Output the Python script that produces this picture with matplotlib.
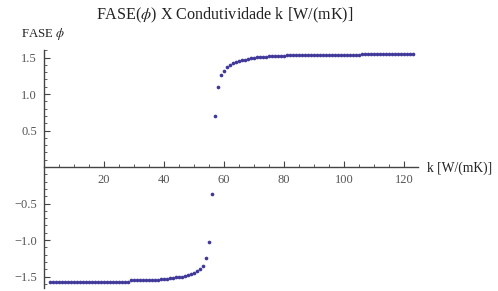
import matplotlib
matplotlib.use("Agg")
import matplotlib.pyplot as plt
from matplotlib.ticker import MultipleLocator, FuncFormatter

plt.rcParams['mathtext.fontset'] = 'stix'

# conductivity k [W/(mK)]
k = list(range(2, 124))

# phase values
phase = (
    [-1.57] * 27 +                                   # k 2-28
    [-1.55] * 10 +                                   # k 29-38
    [-1.54, -1.53, -1.53, -1.52, -1.52, -1.51,       # k 39-44
     -1.51, -1.50, -1.49, -1.48, -1.47, -1.45,       # k 45-50
     -1.43, -1.40, -1.36, -1.25, -1.03, -0.37,       # k 51-56
     0.70, 1.10, 1.26, 1.32, 1.37, 1.40,             # k 57-62
     1.42, 1.44, 1.45, 1.46, 1.47, 1.48,             # k 63-68
     1.49, 1.50] +                                   # k 69-70
    [1.51] * 4 +                                     # k 71-74
    [1.52] * 6 +                                     # k 75-80
    [1.53] * 10 +                                    # k 81-90
    [1.54] * 15 +                                    # k 91-105
    [1.55] * 18                                      # k 106-123
)

x_major = [20, 40, 60, 80, 100, 120]
y_major = [-1.5, -1.0, -0.5, 0.5, 1.0, 1.5]

W, H = 498, 291
fig = plt.figure(figsize=(W / 100, H / 100), dpi=100)
left_px, right_px = 44, 417.5
top_px, bot_px = 49.5, 287.5
ax = fig.add_axes([left_px / W, (H - bot_px) / H,
                   (right_px - left_px) / W, (bot_px - top_px) / H])
ax.set_xlim(0, 124.5)
ax.set_ylim(-1.65, 1.61)

ax.scatter(k, phase, s=7, color='#41399a', linewidths=0, zorder=3)

for s in ['top', 'right']:
    ax.spines[s].set_visible(False)
ax.spines['left'].set_position(('data', 0))
ax.spines['bottom'].set_position(('data', 0))
axis_col = '#444444'
for s in ['left', 'bottom']:
    ax.spines[s].set_color(axis_col)
    ax.spines[s].set_linewidth(1.0)

ax.xaxis.set_major_locator(plt.FixedLocator(x_major))
ax.xaxis.set_minor_locator(MultipleLocator(5))
ax.yaxis.set_major_locator(plt.FixedLocator(y_major))
ax.yaxis.set_minor_locator(MultipleLocator(0.1))

ax.yaxis.set_major_formatter(FuncFormatter(lambda v, p: ('%.1f' % v).replace('-', '\u2212')))
ax.xaxis.set_major_formatter(FuncFormatter(lambda v, p: '%d' % v))

ax.tick_params(axis='x', which='major', direction='in', length=4, width=0.8,
               color=axis_col, labelsize=9, labelcolor='#555555', pad=5)
ax.tick_params(axis='x', which='minor', direction='in', length=2.2, width=0.6, color=axis_col)
ax.tick_params(axis='y', which='major', direction='in', length=4, width=0.8,
               color=axis_col, labelsize=9, labelcolor='#555555', pad=5)
ax.tick_params(axis='y', which='minor', direction='in', length=2.2, width=0.6, color=axis_col)
for lab in ax.get_xticklabels() + ax.get_yticklabels():
    lab.set_fontfamily('Liberation Serif')

fig.text(224.5 / W, 1 - 15 / H, r'FASE($\phi$) X Condutividade k [W/(mK)]',
         ha='center', va='center', fontsize=11.6, family='Liberation Serif', color='#222222')
fig.text(21 / W, 1 - 34 / H, r'FASE $\phi$', ha='left', va='center',
         fontsize=9.2, family='Liberation Serif', color='#222222')
fig.text(427 / W, 1 - 168 / H, 'k [W/(mK)]', ha='left', va='center',
         fontsize=9.8, family='Liberation Serif', color='#222222')

fig.savefig('out.png', dpi=100)
